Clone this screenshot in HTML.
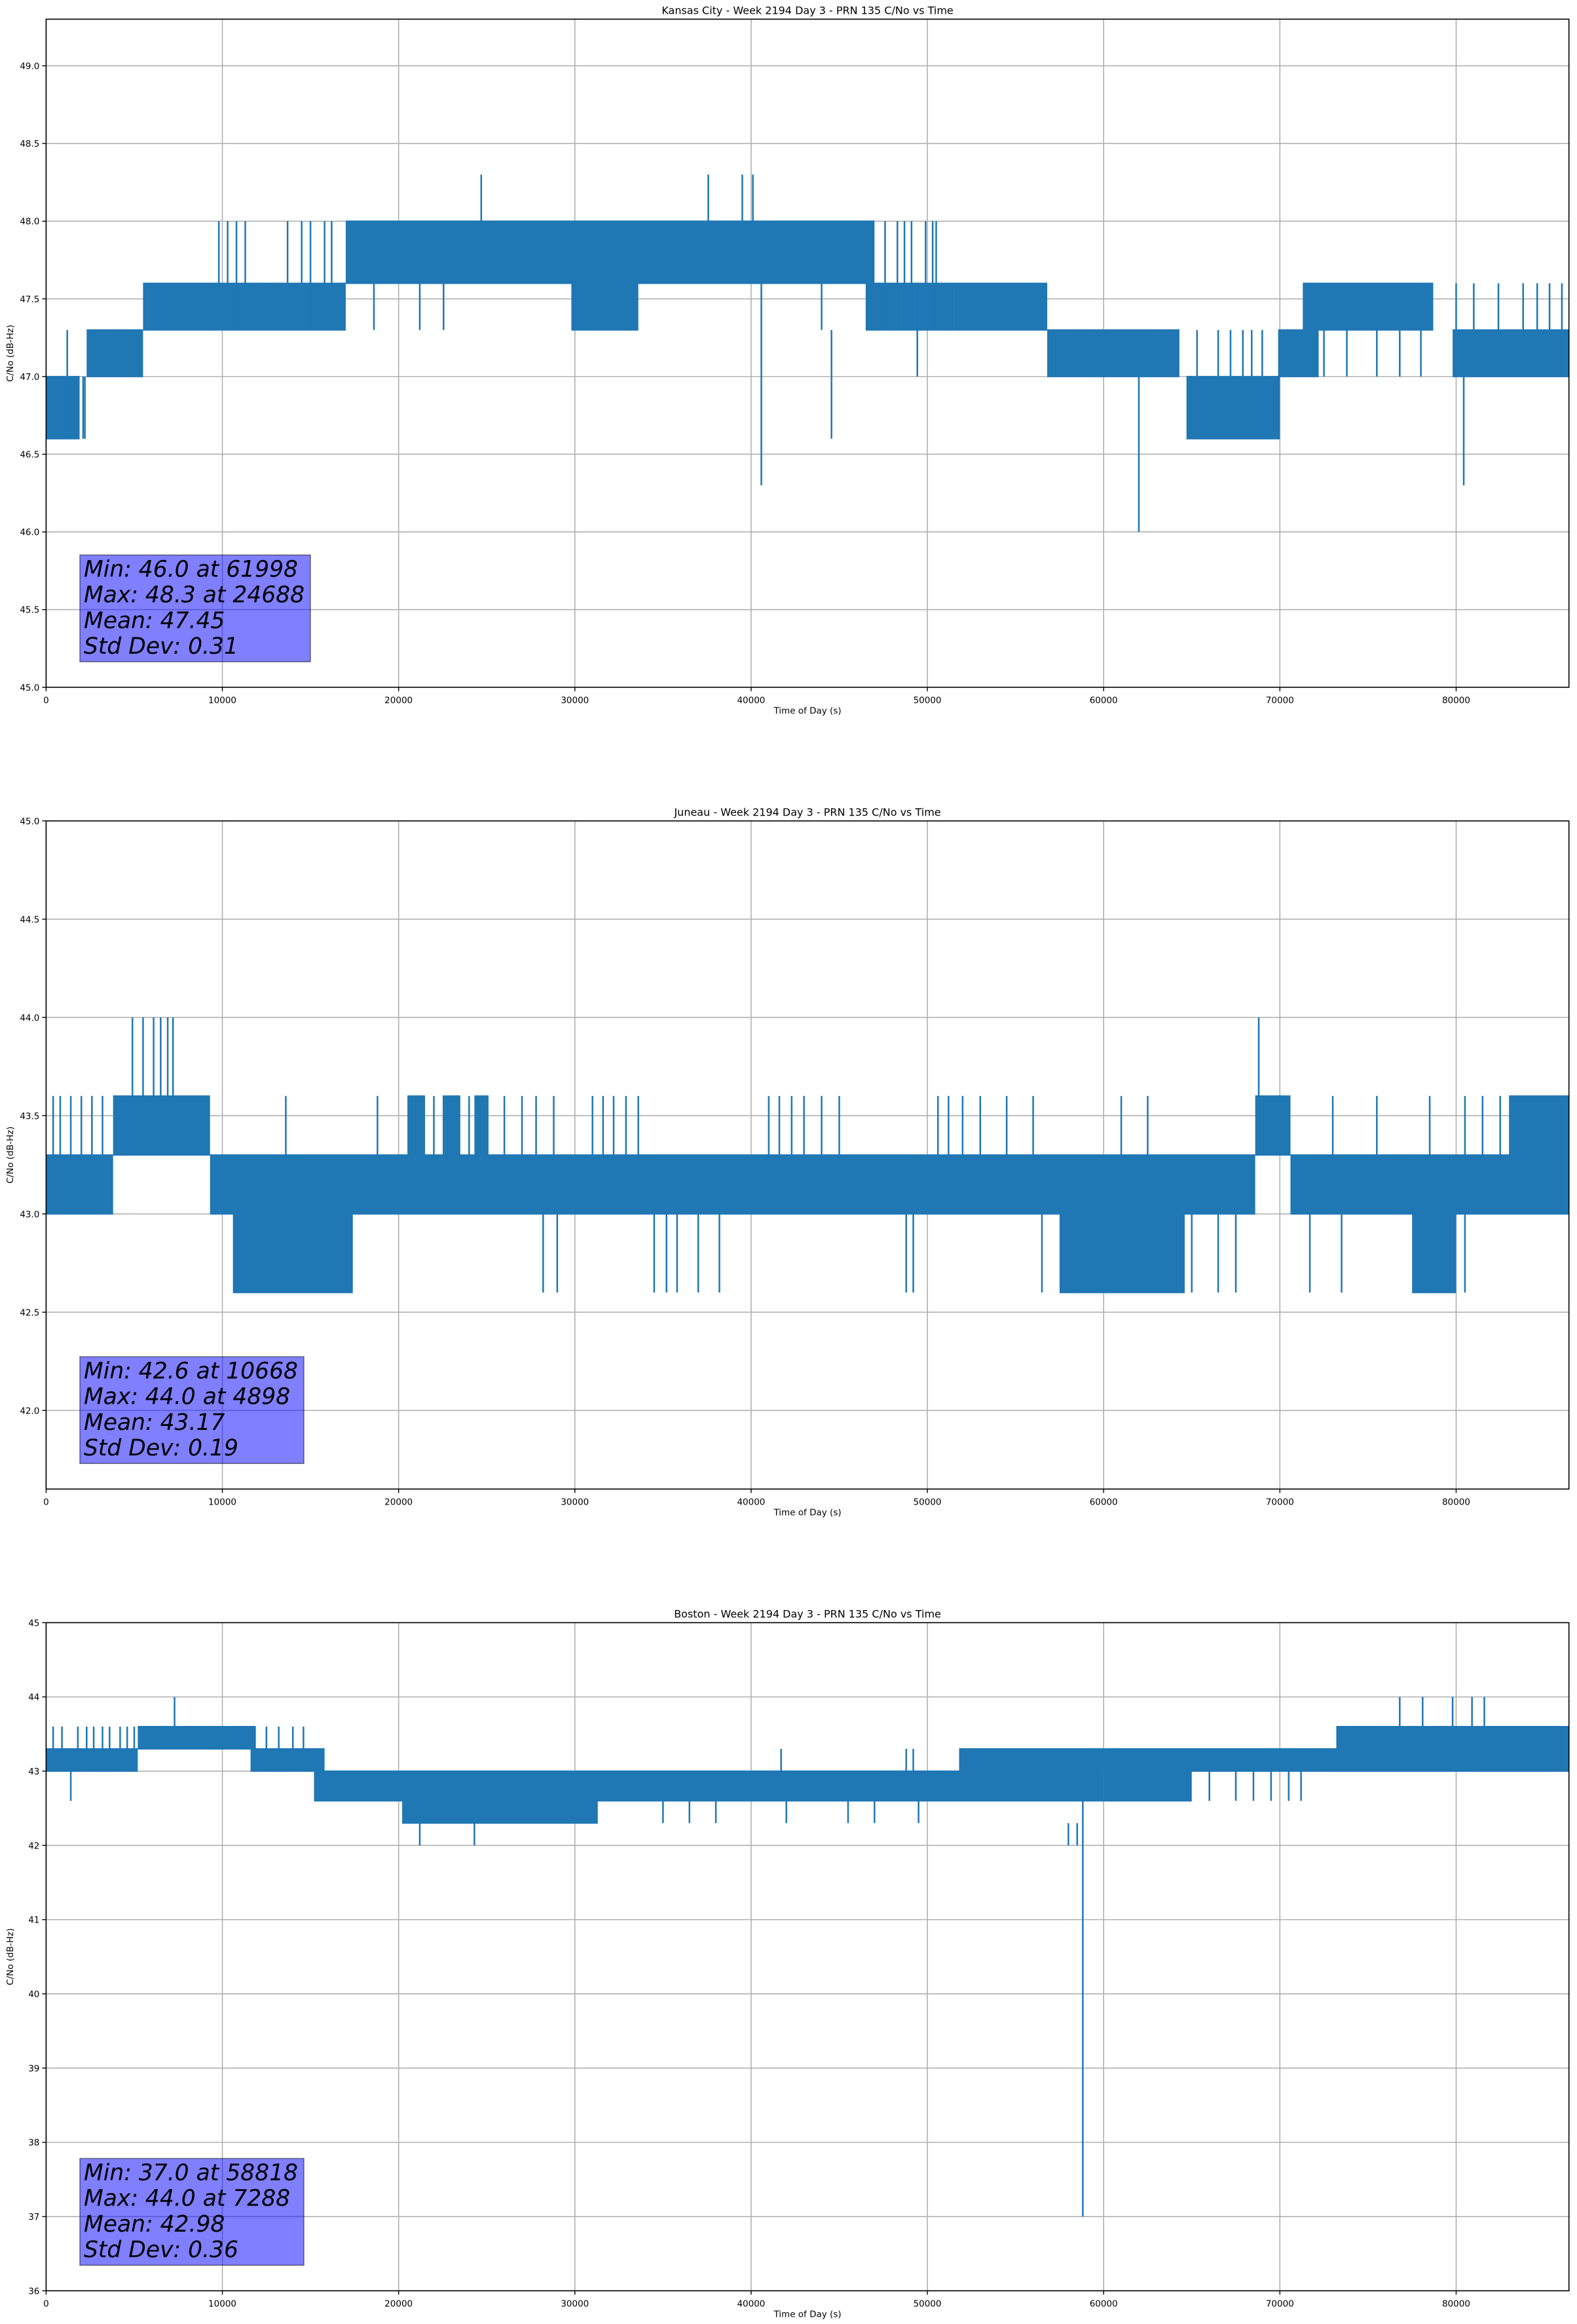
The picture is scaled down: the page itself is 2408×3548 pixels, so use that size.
<!DOCTYPE html>
<html><head><meta charset="utf-8">
<style>
html,body{margin:0;padding:0;background:#fff;}
svg{display:block;font-family:"DejaVu Sans","Liberation Sans",sans-serif;}
</style></head>
<body>
<svg id="fig" width="2408" height="3548" viewBox="0 0 2408 3548" xmlns="http://www.w3.org/2000/svg"></svg>
<script>
// ---------- data ----------
const xTicks = [0,10000,20000,30000,40000,50000,60000,70000,80000];
const xMax = 86400;

const kcTitle = "Kansas City - Week 2194 Day 3 - PRN 135 C/No vs Time";
const kcYLim = [45.0, 49.3];
const kcYTicks = [45.0,45.5,46.0,46.5,47.0,47.5,48.0,48.5,49.0];
const kcStats = ["Min: 46.0 at 61998","Max: 48.3 at 24688","Mean: 47.45","Std Dev: 0.31"];
const kcBandStart = [0,2300,5500,17000,29800,46500,51500,56800,64700,69900,71300,79800];
const kcBandEnd   = [1900,5500,17000,47000,33600,51500,56800,64300,70000,72200,78700,86400];
const kcBandLo    = [46.6,47.0,47.3,47.6,47.3,47.3,47.3,47.0,46.6,47.0,47.3,47.0];
const kcBandHi    = [47.0,47.3,47.6,48.0,47.6,47.6,47.6,47.3,47.0,47.3,47.6,47.3];
const kcSpikeT    = [9800,10300,10800,11300,13700,14500,15000,15800,16200,1200,18600,21200,22550,44000,47600,48300,48700,49100,49900,50300,50500,61998,40580,80430,44560,49430,24688,37570,39500,40100,65300,66500,67200,67900,68400,69000,72500,73800,75500,76800,78000,80000,81000,82400,83800,84600,85300,86000,2100,2200];
const kcSpikeFrom = [47.3,47.3,47.3,47.3,47.3,47.3,47.3,47.3,47.3,46.6,47.3,47.3,47.3,47.3,47.3,47.3,47.3,47.3,47.3,47.3,47.3,47.0,47.6,47.0,47.3,47.6,48.0,48.0,48.0,48.0,47.0,47.0,47.0,47.0,47.0,47.0,47.0,47.0,47.0,47.0,47.0,47.3,47.3,47.3,47.3,47.3,47.3,47.3,46.6,46.6];
const kcSpikeTo   = [48.0,48.0,48.0,48.0,48.0,48.0,48.0,48.0,48.0,47.3,47.6,47.6,47.6,47.6,48.0,48.0,48.0,48.0,48.0,48.0,48.0,46.0,46.3,46.3,46.6,47.0,48.3,48.3,48.3,48.3,47.3,47.3,47.3,47.3,47.3,47.3,47.3,47.3,47.3,47.3,47.3,47.6,47.6,47.6,47.6,47.6,47.6,47.6,47.0,47.0];

const juTitle = "Juneau - Week 2194 Day 3 - PRN 135 C/No vs Time";
const juYLim = [41.6, 45.0];
const juYTicks = [42.0,42.5,43.0,43.5,44.0,44.5,45.0];
const juStats = ["Min: 42.6 at 10668","Max: 44.0 at 4898","Mean: 43.17","Std Dev: 0.19"];
const juBandStart = [0,3800,9300,68600,70600,83000,10600,57500,77500,20500,22500,24300];
const juBandEnd   = [3800,9300,68600,70600,86400,86400,17400,64600,80000,21500,23500,25100];
const juBandLo    = [43.0,43.3,43.0,43.3,43.0,43.3,42.6,42.6,42.6,43.3,43.3,43.3];
const juBandHi    = [43.3,43.6,43.3,43.6,43.3,43.6,43.0,43.0,43.0,43.6,43.6,43.6];
const juSpikeT    = [4898,5500,6100,6500,6900,7200,68800,400,800,1400,2000,2600,3200,13600,18800,26000,27000,27800,28800,31000,31600,32200,32900,33600,41000,41600,42300,43000,44000,45000,50600,51200,52000,53000,54500,56000,61000,62500,73000,75500,78500,80500,81500,82500,28200,29000,34500,35200,35800,37000,38200,48800,49200,56500,65000,66500,67500,71700,73500,80500,22000,24000];
const juSpikeFrom = [43.6,43.6,43.6,43.6,43.6,43.6,43.6,43.3,43.3,43.3,43.3,43.3,43.3,43.3,43.3,43.3,43.3,43.3,43.3,43.3,43.3,43.3,43.3,43.3,43.3,43.3,43.3,43.3,43.3,43.3,43.3,43.3,43.3,43.3,43.3,43.3,43.3,43.3,43.3,43.3,43.3,43.3,43.3,43.3,43.0,43.0,43.0,43.0,43.0,43.0,43.0,43.0,43.0,43.0,43.0,43.0,43.0,43.0,43.0,43.0,43.3,43.3];
const juSpikeTo   = [44.0,44.0,44.0,44.0,44.0,44.0,44.0,43.6,43.6,43.6,43.6,43.6,43.6,43.6,43.6,43.6,43.6,43.6,43.6,43.6,43.6,43.6,43.6,43.6,43.6,43.6,43.6,43.6,43.6,43.6,43.6,43.6,43.6,43.6,43.6,43.6,43.6,43.6,43.6,43.6,43.6,43.6,43.6,43.6,42.6,42.6,42.6,42.6,42.6,42.6,42.6,42.6,42.6,42.6,42.6,42.6,42.6,42.6,42.6,42.6,43.6,43.6];

const boTitle = "Boston - Week 2194 Day 3 - PRN 135 C/No vs Time";
const boYLim = [36, 45];
const boYTicks = [36,37,38,39,40,41,42,43,44,45];
const boStats = ["Min: 37.0 at 58818","Max: 44.0 at 7288","Mean: 42.98","Std Dev: 0.36"];
const boBandStart = [0,5200,11600,15200,20200,51800,73200,60000];
const boBandEnd   = [5200,11900,15800,60000,31300,86400,86400,65000];
const boBandLo    = [43.0,43.3,43.0,42.6,42.3,43.0,43.3,42.6];
const boBandHi    = [43.3,43.6,43.3,43.0,42.6,43.3,43.6,43.0];
const boSpikeT    = [400,900,2700,3200,3600,4200,7288,76800,78100,79800,80900,81600,1400,21200,24300,58000,58500,58818,41700,48800,49200,35000,36500,38000,42000,45500,47000,49500,66000,67500,68500,69500,70500,71200,12500,13200,14000,14600,5000,4600,1800,2300];
const boSpikeFrom = [43.3,43.3,43.3,43.3,43.3,43.3,43.6,43.6,43.6,43.6,43.6,43.6,43.0,42.3,42.3,42.3,42.3,42.6,43.0,43.0,43.0,42.6,42.6,42.6,42.6,42.6,42.6,42.6,43.0,43.0,43.0,43.0,43.0,43.0,43.3,43.3,43.3,43.3,43.3,43.3,43.3,43.3];
const boSpikeTo   = [43.6,43.6,43.6,43.6,43.6,43.6,44.0,44.0,44.0,44.0,44.0,44.0,42.6,42.0,42.0,42.0,42.0,37.0,43.3,43.3,43.3,42.3,42.3,42.3,42.3,42.3,42.3,42.3,42.6,42.6,42.6,42.6,42.6,42.6,43.6,43.6,43.6,43.6,43.6,43.6,43.6,43.6];

// ---------- drawing ----------
const NS = "http://www.w3.org/2000/svg";
const fig = document.getElementById('fig');
const L = 70.4, R = 2395.7, H = 1020;
const tops = [29.3, 1253.3, 2477.3];
const BLUE = "#1f77b4";

function mk(tag, attrs, parent){
  const e = document.createElementNS(NS, tag);
  for (const k in attrs) e.setAttribute(k, attrs[k]);
  parent.appendChild(e);
  return e;
}

function drawChart(idx, name, title, yLim, yTicks, stats, bs, be, blo, bhi, st, sf, sto){
  const top = tops[idx], bot = top + H;
  const g = mk('g', {}, fig);
  
  
  const xs = t => L + (t / xMax) * (R - L);
  const ys = v => bot - (v - yLim[0]) / (yLim[1] - yLim[0]) * H;

  xTicks.forEach(t => {
    const ln = mk('line', {x1:xs(t), x2:xs(t), y1:top, y2:bot, stroke:'#b0b0b0', 'stroke-width':1.6}, g);
    
    
  });
  yTicks.forEach(v => {
    const ln = mk('line', {x1:L, x2:R, y1:ys(v), y2:ys(v), stroke:'#b0b0b0', 'stroke-width':1.6}, g);
    
    
  });

  const series = mk('g', {}, g);
  
  
  for (let i = 0; i < bs.length; i++){
    const r = mk('rect', {x:xs(bs[i]), y:ys(bhi[i]) - 1, width:Math.max(2, xs(be[i]) - xs(bs[i])), height:ys(blo[i]) - ys(bhi[i]) + 2, fill:BLUE}, series);
    
    
  }
  for (let i = 0; i < st.length; i++){
    const ln = mk('line', {x1:xs(st[i]), x2:xs(st[i]), y1:ys(sf[i]), y2:ys(sto[i]), stroke:BLUE, 'stroke-width':2.5}, series);
    
    
  }

  const sp = mk('rect', {x:L, y:top, width:R - L, height:H, fill:'none', stroke:'#000', 'stroke-width':1.6}, g);
  
  

  xTicks.forEach(t => {
    mk('line', {x1:xs(t), x2:xs(t), y1:bot, y2:bot + 6, stroke:'#000', 'stroke-width':1.4}, g);
    const tx = mk('text', {x:xs(t), y:bot + 24, 'font-size':13.5, 'text-anchor':'middle', fill:'#000'}, g);
    tx.textContent = String(t);
    
    
  });
  yTicks.forEach(v => {
    mk('line', {x1:L - 6, x2:L, y1:ys(v), y2:ys(v), stroke:'#000', 'stroke-width':1.4}, g);
    const tx = mk('text', {x:L - 10, y:ys(v) + 5, 'font-size':13.5, 'text-anchor':'end', fill:'#000'}, g);
    tx.textContent = (idx === 2) ? String(v) : v.toFixed(1);
    
    
  });

  const ttl = mk('text', {x:(L + R) / 2, y:top - 8, 'font-size':16, 'text-anchor':'middle', fill:'#000'}, g);
  ttl.textContent = title;
  
  
  const xl = mk('text', {x:(L + R) / 2, y:bot + 40, 'font-size':13.5, 'text-anchor':'middle', fill:'#000'}, g);
  xl.textContent = 'Time of Day (s)';
  
  
  const yl = mk('text', {x:0, y:0, 'font-size':13.5, 'text-anchor':'middle', fill:'#000', transform:`translate(20,${top + H / 2}) rotate(-90)`}, g);
  yl.textContent = 'C/No (dB-Hz)';
  
  

  const bx = mk('rect', {x:122, y:top + 818, width:(idx === 0 ? 352 : 342), height:163, fill:'#0000ff', 'fill-opacity':0.5, stroke:'#000', 'stroke-opacity':0.5, 'stroke-width':1.5}, g);
  
  
  stats.forEach((s, i) => {
    const tx = mk('text', {x:128, y:top + 851 + i * 39.3, 'font-size':34.5, 'font-style':'oblique', fill:'#000'}, g);
    tx.textContent = s;
    
    
  });
}

drawChart(0, 'kansas-city', kcTitle, kcYLim, kcYTicks, kcStats, kcBandStart, kcBandEnd, kcBandLo, kcBandHi, kcSpikeT, kcSpikeFrom, kcSpikeTo);
drawChart(1, 'juneau', juTitle, juYLim, juYTicks, juStats, juBandStart, juBandEnd, juBandLo, juBandHi, juSpikeT, juSpikeFrom, juSpikeTo);
drawChart(2, 'boston', boTitle, boYLim, boYTicks, boStats, boBandStart, boBandEnd, boBandLo, boBandHi, boSpikeT, boSpikeFrom, boSpikeTo);
</script>
</body></html>
